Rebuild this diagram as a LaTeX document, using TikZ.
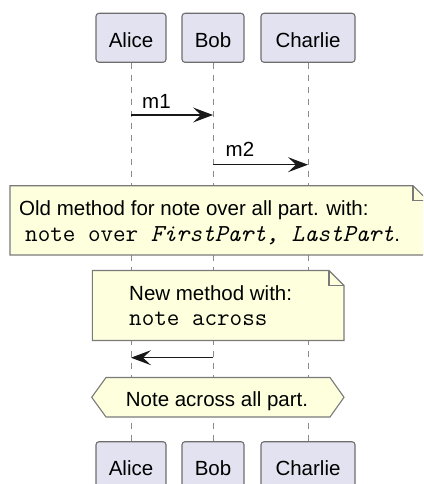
\documentclass[tikz,border=0pt]{standalone}
\usepackage{fontspec}
\setmainfont{Liberation Sans}
\usetikzlibrary{arrows.meta}
\definecolor{partfill}{HTML}{E2E2F0}
\definecolor{partline}{HTML}{6E6E6E}
\definecolor{notefill}{HTML}{FEFFDD}
\definecolor{noteline}{HTML}{7A7A7A}
\definecolor{lifeline}{HTML}{8A8A8A}
\definecolor{msgline}{HTML}{181818}
\newcommand{\mono}{\fontsize{24.4}{25}\selectfont\ttfamily}
\begin{document}
\begin{tikzpicture}[x=1pt,y=-1pt,
  every node/.style={font=\fontsize{20.5}{25}\selectfont, inner sep=0pt},
  participant/.style={draw=partline, fill=partfill, line width=1.1pt, rounded corners=3pt,
     minimum height=49pt, text height=19pt, text depth=0pt},
  life/.style={draw=lifeline, line width=1pt, dash pattern=on 6pt off 6pt},
  msg/.style={draw=msgline, line width=1.3pt, -{Stealth[length=20pt,width=15pt,inset=8pt]}},
  notebox/.style={draw=noteline, fill=notefill, line width=1.1pt},
  txt/.style={anchor=base west},
]
\useasboundingbox (0,0) rectangle (423,484);
\clip (0,0) rectangle (423,484);
\fill[white] (0,0) rectangle (423,484);

% participants
\node[participant, minimum width=70pt] (A1) at (131,37.8) {Alice};
\node[participant, minimum width=62pt] (B1) at (213,37.8) {Bob};
\node[participant, minimum width=94pt] (C1) at (308,37.8) {Charlie};
\node[participant, minimum width=70pt] (A2) at (131,466.2) {Alice};
\node[participant, minimum width=62pt] (B2) at (213,466.2) {Bob};
\node[participant, minimum width=94pt] (C2) at (308,466.2) {Charlie};

% lifelines
\draw[life] (A1.south) -- (A2.north);
\draw[life] (B1.south) -- (B2.north);
\draw[life] (C1.south) -- (C2.north);

% messages
\coordinate (am1) at (A1.south |- 0,115);
\coordinate (bm1) at (B1.south |- 0,115);
\coordinate (bm2) at (B1.south |- 0,164.7);
\coordinate (cm2) at (C1.south |- 0,164.7);
\coordinate (bm3) at (B1.south |- 0,357.7);
\coordinate (am3) at (A1.south |- 0,357.7);
\draw[msg] (am1) -- (bm1);
\node[txt] (m1) at (142,109) {m1};
\draw[msg] (bm2) -- (cm2);
\node[txt] (m2) at (225.5,156.5) {m2};
\draw[msg] (bm3) -- (am3);

% old note
\path[notebox] (10,185.7) -- (413,185.7) -- (428,200.7) -- (428,255) -- (10,255) -- cycle;
\draw[noteline, line width=1.1pt] (413,185.7) -- (413,200.7) -- (428,200.7);
\node[txt] (old1) at (19,215) {Old method for note over all part. with:};
\node[txt] (old2) at (25,241.3) {{\mono note over \textit{FirstPart, LastPart}}.};

% new note
\path[notebox] (92.3,270.5) -- (329,270.5) -- (344,285.5) -- (344,340.5) -- (92.3,340.5) -- cycle;
\draw[noteline, line width=1.1pt] (329,270.5) -- (329,285.5) -- (344,285.5);
\node[txt] (new1) at (129,300) {New method with:};
\node[txt] (new2) at (129,325.3) {\mono note across};

% hexagon note
\path[notebox] (91.7,397.3) -- (106,377.5) -- (330,377.5) -- (344,397.3) -- (330,417) -- (106,417) -- cycle;
\node[anchor=base] (hex) at (217,406.7) {Note across all part.};
\end{tikzpicture}
\end{document}
